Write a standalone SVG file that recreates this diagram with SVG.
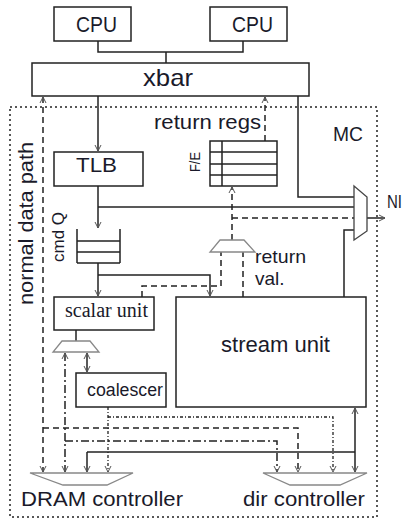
<svg xmlns="http://www.w3.org/2000/svg" width="406" height="522" viewBox="0 0 406 522">
<defs>
<marker id="ar" viewBox="0 0 8 8" refX="7" refY="4" markerWidth="8" markerHeight="8" markerUnits="userSpaceOnUse" orient="auto-start-reverse">
<path d="M1,1 L7,4 L1,7" fill="none" stroke="#555" stroke-width="1"/>
</marker>
<style>
.box{fill:#fff;stroke:#222;stroke-width:1.5}
.ln{fill:none;stroke:#222;stroke-width:1.5}
.da{fill:none;stroke:#222;stroke-width:1.5;stroke-dasharray:6,4}
.dd{fill:none;stroke:#222;stroke-width:1.5;stroke-dasharray:8,3,2,3}
.dt{fill:none;stroke:#222;stroke-width:1.3;stroke-dasharray:3,2,1,2}
.mux{fill:#fff;stroke:#888;stroke-width:1.3}
.t{font-family:"Liberation Sans",Arial,sans-serif;fill:#1a1a2a}
.s{font-family:"Liberation Serif","Times New Roman",serif;fill:#1a1a2a}
</style>
</defs>
<rect x="10" y="107" width="367" height="410" fill="none" stroke="#222" stroke-width="1.5" stroke-dasharray="2,3"/>
<g id="connectors">
<path class="ln" d="M98,41 V52 H243 V41 M166,52 V63"/>
<path class="ln" d="M98,96 V151" marker-end="url(#ar)"/>
<path class="ln" d="M98,186 V228" marker-end="url(#ar)"/>
<path class="ln" d="M98,207 H354"/>
<path class="ln" d="M298,96 V197 H354"/>
<path class="ln" d="M98,263 V296" marker-end="url(#ar)"/>
<path class="ln" d="M98,275 H210 V296" marker-end="url(#ar)"/>
<path class="ln" d="M76,330 V341"/>
<path class="ln" d="M87,353 V372" marker-start="url(#ar)" marker-end="url(#ar)"/>
<path class="ln" d="M344,297 V230 H354"/>
<path class="ln" d="M367,218 H385" marker-end="url(#ar)"/>
<path class="da" d="M265,141 V97" marker-end="url(#ar)"/>
<path class="da" d="M232,240 V187" marker-end="url(#ar)"/>
<path class="da" d="M232,218 H354"/>
<path class="da" d="M142,297 V286 H221 V252"/>
<path class="da" d="M243,297 V252"/>
<path class="da" d="M43,97 V472" marker-start="url(#ar)" marker-end="url(#ar)"/>
<path class="da" d="M43,428 H298 V472" marker-end="url(#ar)"/>
<path class="dd" d="M65,353 V472" marker-start="url(#ar)" marker-end="url(#ar)"/>
<path class="dd" d="M65,441 H277 V472" marker-end="url(#ar)"/>
<path class="ln" d="M355,408 V472" marker-start="url(#ar)" marker-end="url(#ar)"/>
<path class="ln" d="M87,452 H355"/>
<path class="ln" d="M87,452 V472" marker-end="url(#ar)"/>
<path class="dt" d="M108,407 V472" marker-end="url(#ar)"/>
<path class="dt" d="M108,417 H333 V472" marker-end="url(#ar)"/>
</g>
<g id="cpu1"><rect class="box" x="54" y="7" width="77" height="34"/><text class="t" x="76" y="32" font-size="22" textLength="41" lengthAdjust="spacingAndGlyphs">CPU</text></g>
<g id="cpu2"><rect class="box" x="210" y="7" width="77" height="34"/><text class="t" x="232" y="32" font-size="22" textLength="41" lengthAdjust="spacingAndGlyphs">CPU</text></g>
<g id="xbar"><rect class="box" x="32" y="63" width="277" height="33"/><text class="t" x="143" y="86" font-size="24" textLength="50" lengthAdjust="spacingAndGlyphs">xbar</text></g>
<g id="mc"><text class="t" x="333" y="141" font-size="20" textLength="30" lengthAdjust="spacingAndGlyphs">MC</text></g>
<g id="ndp"><text class="t" x="33" y="305" font-size="20" transform="rotate(-90 33 305)" textLength="163" lengthAdjust="spacingAndGlyphs">normal data path</text></g>
<g id="tlb"><rect class="box" x="54" y="152" width="89" height="34"/><text class="t" x="76" y="172" font-size="21" textLength="41" lengthAdjust="spacingAndGlyphs">TLB</text></g>
<g id="returnregs">
<text class="t" x="154" y="129" font-size="21" textLength="107" lengthAdjust="spacingAndGlyphs">return regs</text>
<rect class="box" x="210" y="141" width="67" height="45"/>
<path class="ln" d="M222,141 V186 M210,152 H277 M210,164 H277 M210,175 H277"/>
<text class="t" x="200" y="172" font-size="14" transform="rotate(-90 200 172)" textLength="20" lengthAdjust="spacingAndGlyphs">F/E</text>
</g>
<g id="cmdq">
<path class="ln" d="M77,229 V263 M120,229 V263 M77,241 H120 M77,252 H120 M77,263 H120"/>
<text class="t" x="64" y="262" font-size="16" transform="rotate(-90 64 262)" textLength="50" lengthAdjust="spacingAndGlyphs">cmd Q</text>
</g>
<g id="nimux"><polygon points="354,186 367,197 367,231 354,240" fill="#fff" stroke="#444" stroke-width="1.3"/><text class="t" x="387" y="208" font-size="19" textLength="15" lengthAdjust="spacingAndGlyphs">NI</text></g>
<g id="retvalmux"><polygon class="mux" points="220,240 244,240 255,252 210,252"/>
<text class="t" x="255" y="263" font-size="19" textLength="51" lengthAdjust="spacingAndGlyphs">return</text>
<text class="t" x="255" y="285" font-size="19">val.</text></g>
<g id="scalar"><rect class="box" x="54" y="297" width="100" height="33"/><text class="s" x="65" y="317" font-size="20" textLength="83" lengthAdjust="spacingAndGlyphs">scalar unit</text></g>
<g id="scalarmux"><polygon class="mux" points="62,341 90,341 99,352 53,352"/></g>
<g id="stream"><rect class="box" x="176" y="297" width="190" height="110"/><text class="t" x="221" y="352" font-size="22" textLength="109" lengthAdjust="spacingAndGlyphs">stream unit</text></g>
<g id="coalescer"><rect class="box" x="76" y="373" width="90" height="34"/><text class="t" x="87" y="396" font-size="18" textLength="76" lengthAdjust="spacingAndGlyphs">coalescer</text></g>
<g id="dram"><polygon class="mux" points="30,473 133,473 107,485 63,485"/><text class="t" x="21" y="506" font-size="21" textLength="162" lengthAdjust="spacingAndGlyphs">DRAM controller</text></g>
<g id="dir"><polygon class="mux" points="263,473 367,473 340,485 290,485"/><text class="t" x="243" y="506" font-size="21" textLength="122" lengthAdjust="spacingAndGlyphs">dir controller</text></g>
</svg>
